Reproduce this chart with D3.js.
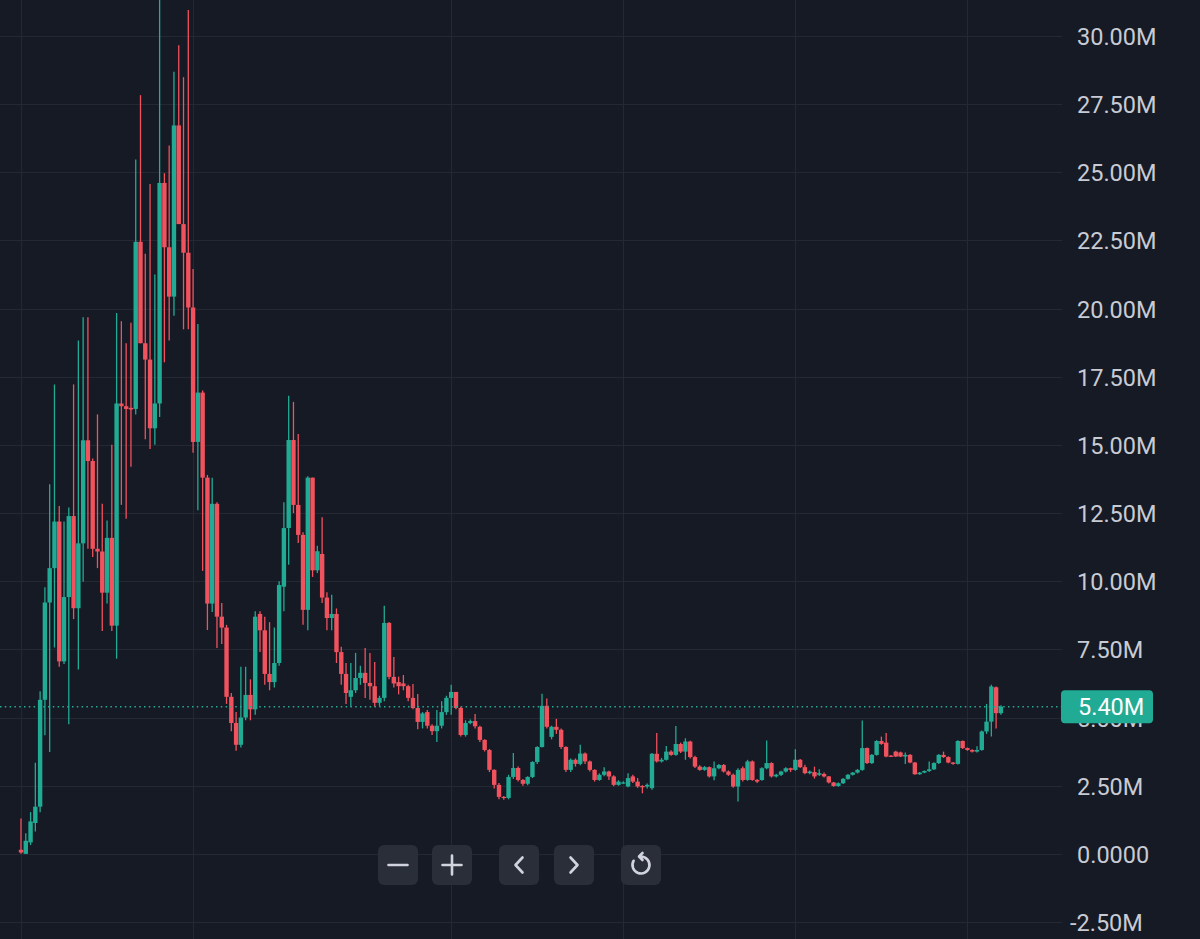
<!doctype html>
<html lang="en">
    <head>
        <meta charset="utf-8">
        <title>Candles</title>
        <style>
            html, body { margin: 0; padding: 0; background: #161a25; }
            svg { display: block; }
        </style>
    </head>
    <body>
        <script src="https://cdn.jsdelivr.net/npm/d3@7"></script>
        <script>
            // values in millions, one entry per candle
            var opens = [0.15,0.0,0.42,1.13,1.73,5.65,9.22,10.48,12.19,7.06,9.42,12.39,9.01,11.39,15.17,14.41,11.19,11.09,9.58,11.59,
                8.37,16.52,16.42,16.36,16.32,22.45,18.73,18.13,15.61,16.52,24.61,22.25,20.44,26.72,23.1,22.05,20.04,15.11,16.92,13.8,
                9.18,12.84,8.7,8.3,5.76,4.8,4.0,5.0,5.83,5.3,8.8,8.2,6.6,6.3,7.0,9.8,11.95,15.18,12.8,11.7,
                8.95,13.8,10.4,11.0,9.4,8.65,8.8,7.4,6.6,5.76,6.0,6.45,6.64,6.27,6.15,5.54,5.72,8.47,6.49,6.3,
                6.25,6.15,5.72,5.35,4.84,5.2,4.7,4.5,4.7,5.2,5.72,5.94,5.35,4.36,4.8,4.87,4.66,4.18,3.81,3.08,
                2.53,2.09,2.05,2.82,3.15,2.71,2.57,2.82,3.37,3.92,5.43,4.29,4.66,4.55,3.92,3.08,3.45,3.3,3.68,3.39,
                3.08,2.71,2.9,3.02,2.84,2.53,2.6,2.47,2.84,2.65,2.49,2.47,2.41,3.67,3.39,3.45,3.75,3.63,4.03,3.75,
                4.12,3.55,3.2,3.08,3.18,2.84,3.14,3.26,3.02,2.9,2.47,3.14,2.71,3.39,2.71,2.71,3.14,3.33,2.84,2.9,
                3.02,3.14,3.08,3.45,3.18,2.96,3.0,2.9,2.93,2.84,2.62,2.49,2.59,2.75,2.9,2.98,3.08,3.88,3.33,3.63,
                4.14,4.08,3.6,3.75,3.72,3.57,3.63,3.35,2.92,2.98,3.04,3.1,3.33,3.63,3.55,3.35,3.3,4.14,3.88,3.81,
                3.75,3.81,4.49,4.85,6.11,5.16];
            var highs = [1.3,0.76,1.53,3.34,5.96,9.78,13.56,17.22,12.76,12.19,12.7,17.22,18.83,19.68,19.68,14.5,16.12,12.84,12.23,15.01,
                19.84,19.54,18.73,19.48,25.47,27.83,22.01,24.57,21.25,32.0,24.97,25.98,28.69,29.66,28.49,30.95,21.45,19.44,17.0,13.9,
                13.8,12.9,9.2,8.4,5.9,5.2,6.86,6.86,6.4,8.9,8.9,8.7,8.5,8.3,10.0,12.9,16.8,16.58,15.4,11.8,
                13.85,13.8,11.3,12.35,9.6,9.5,9.0,7.6,7.0,7.0,7.37,6.9,7.55,7.37,7.04,5.8,9.1,8.5,7.22,6.5,
                6.56,6.2,6.23,5.86,5.2,5.28,4.75,5.28,5.6,5.8,6.2,5.94,5.4,4.9,4.93,5.13,4.7,4.2,3.85,3.1,
                2.6,2.12,2.9,3.7,3.2,2.75,2.85,3.4,3.95,5.87,5.7,4.7,4.95,4.6,3.95,3.5,3.5,4.0,3.72,3.42,
                3.1,2.95,3.18,3.05,2.88,2.7,2.66,2.96,2.9,2.78,2.52,2.58,3.7,4.43,3.52,3.96,3.8,4.69,4.08,4.24,
                4.15,3.6,3.25,3.22,3.2,3.39,3.3,3.3,3.06,2.95,3.14,3.2,3.45,3.42,2.75,3.18,4.16,3.36,2.94,3.05,
                3.18,3.16,3.84,3.48,3.27,3.06,3.2,3.1,2.98,2.86,2.64,2.62,2.78,2.93,3.0,3.11,4.89,3.9,3.66,4.17,
                4.3,4.43,3.63,3.78,3.75,3.72,3.66,3.37,3.0,3.06,3.39,3.36,3.66,3.75,3.58,3.37,4.17,4.16,3.9,3.84,
                3.95,4.52,5.5,6.2,6.14,5.45];
            var lows = [0.0,0.0,0.32,0.82,1.53,4.35,3.74,7.57,6.86,6.96,4.75,8.61,6.76,9.98,11.19,10.89,10.48,8.17,9.18,8.17,
                7.16,12.8,12.29,14.2,16.12,18.73,15.21,14.85,15.01,16.02,18.03,18.83,19.74,23.1,19.24,19.24,14.71,12.6,10.38,8.21,
                8.87,7.55,7.7,5.5,4.5,3.78,3.9,4.9,4.9,5.1,7.4,6.2,6.0,6.1,6.9,8.9,10.6,12.5,11.4,8.4,
                8.2,10.16,10.3,9.2,8.2,8.2,7.0,6.2,5.5,5.4,5.9,6.2,5.72,5.65,5.4,5.42,5.6,6.4,6.1,5.85,
                6.0,5.6,5.3,4.57,4.6,4.6,4.36,4.1,4.6,5.1,5.1,5.3,4.3,4.3,4.75,4.6,4.1,3.75,3.0,2.4,
                2.0,1.98,2.0,2.75,2.65,2.5,2.52,2.78,3.3,3.9,4.6,4.2,4.4,3.85,3.0,3.0,3.2,3.25,3.3,3.02,
                2.65,2.68,2.85,2.71,2.48,2.5,2.56,2.44,2.6,2.42,2.22,2.4,2.35,3.35,3.35,3.42,3.6,3.6,3.7,3.45,
                3.5,3.15,3.05,3.05,2.8,2.7,3.1,2.98,2.86,2.42,1.92,2.65,2.68,2.68,2.6,2.68,3.1,2.8,2.8,2.86,
                2.98,3.0,3.05,3.15,2.92,2.92,2.76,2.86,2.8,2.58,2.46,2.46,2.56,2.72,2.87,2.95,3.05,3.3,3.3,3.6,
                4.0,3.54,3.55,3.55,3.55,3.3,3.32,2.9,2.9,2.96,3.0,3.08,3.3,3.52,3.32,3.27,3.28,3.85,3.78,3.72,
                3.72,3.78,4.4,4.3,4.6,5.1];
            var closes = [0.05,0.48,1.19,1.73,5.65,9.22,10.48,12.19,7.06,9.42,12.39,9.01,11.39,15.17,14.41,11.19,11.09,9.58,11.59,8.37,
                16.52,16.42,16.32,16.3,22.45,18.73,18.13,15.61,16.52,24.61,22.25,20.44,26.72,23.1,22.05,20.04,15.11,16.92,13.8,9.18,
                12.84,8.7,8.3,5.76,4.8,4.0,5.0,5.83,5.3,8.7,8.2,6.6,6.3,7.0,9.86,11.95,15.18,12.8,11.7,8.95,
                13.8,10.4,11.1,9.4,8.65,8.8,7.4,6.6,5.9,6.0,6.45,6.64,6.27,6.15,5.54,5.72,8.47,6.49,6.25,6.15,
                6.15,5.72,5.35,4.84,5.15,4.7,4.5,4.7,5.2,5.72,5.94,5.35,4.36,4.8,4.87,4.68,4.18,3.81,3.08,2.53,
                2.09,2.05,2.82,3.15,2.71,2.57,2.82,3.37,3.92,5.43,4.66,4.66,4.55,3.92,3.08,3.45,3.3,3.68,3.39,3.08,
                2.71,2.9,3.02,2.84,2.53,2.65,2.62,2.78,2.65,2.47,2.44,2.53,3.67,3.39,3.45,3.75,3.63,4.03,3.75,4.12,
                3.55,3.2,3.08,3.18,2.84,3.14,3.26,3.02,2.9,2.47,3.08,2.71,3.39,2.71,2.65,3.14,3.33,2.84,2.9,3.02,
                3.14,3.08,3.45,3.18,2.96,3.02,2.84,2.96,2.84,2.62,2.49,2.59,2.75,2.9,2.98,3.08,3.88,3.33,3.63,4.14,
                4.03,3.57,3.57,3.57,3.57,3.63,3.35,2.92,2.98,3.04,3.1,3.33,3.63,3.55,3.35,3.3,4.14,3.88,3.81,3.75,
                3.81,4.49,4.85,6.14,5.16,5.4];

            var priceTicks = [-2.5, 0, 2.5, 5, 7.5, 10, 12.5, 15, 17.5, 20, 22.5, 25, 27.5, 30];
            var timeTicks = [0, 36, 90, 126, 162, 198];   // candle index of each vertical grid line
            var lastPrice = 5.40;
            var buttons = ["minus", "plus", "left", "right", "reset"];

            var width = 1200, height = 939, plotRight = 1062;
            var up = "#22ab94", down = "#f0525e", grid = "#242833", textColor = "#c8cbd3";

            var candles = opens.map(function(o, i) {
                return {i: i, o: o * 1e6, h: highs[i] * 1e6, l: lows[i] * 1e6, c: closes[i] * 1e6};
            });

            var x = d3.scaleLinear()
                      .domain([0, candles.length - 1])
                      .range([21, 21 + 4.78 * (candles.length - 1)]);
            var y = d3.scaleLinear()
                      .domain([-2.5e6, 30e6])
                      .range([922, 36]);

            var svg = d3.select("body").append("svg")
                        .attr("width", width)
                        .attr("height", height)
                        .style("font-family", "Roboto, sans-serif");

            svg.append("rect")
                .attr("width", width)
                .attr("height", height)
                .attr("fill", "#161a25");

            var crisp = function(v) { return Math.round(v) + 0.5; };

            svg.append("g").selectAll("line")
                .data(priceTicks)
                .enter().append("line")
                .attr("x1", 0)
                .attr("x2", plotRight)
                .attr("y1", function(d) { return crisp(y(d * 1e6)); })
                .attr("y2", function(d) { return crisp(y(d * 1e6)); })
                .attr("stroke", grid);

            svg.append("g").selectAll("line")
                .data(timeTicks)
                .enter().append("line")
                .attr("x1", function(d) { return crisp(x(d)); })
                .attr("x2", function(d) { return crisp(x(d)); })
                .attr("y1", 0)
                .attr("y2", height)
                .attr("stroke", grid);

            // right price axis
            var axis = d3.axisRight(y)
                         .tickValues(priceTicks.map(function(d) { return d * 1e6; }))
                         .tickSize(0)
                         .tickPadding(0)
                         .tickFormat(function(d) {
                             if (d === 0) return "0.0000";
                             return (d < 0 ? "-" : "") + (Math.abs(d) / 1e6).toFixed(2) + "M";
                         });
            var axisG = svg.append("g")
                           .attr("transform", "translate(1077,0)")
                           .call(axis);
            axisG.select(".domain").remove();
            axisG.selectAll("text")
                .attr("fill", textColor)
                .attr("font-size", "23.5px")
                .attr("font-family", "Roboto, sans-serif")
                .attr("dy", "0.36em")
                .attr("x", function(d) { return d < 0 ? -7 : 0; });

            var cg = svg.append("g");
            cg.selectAll("line")
                .data(candles)
                .enter().append("line")
                .attr("x1", function(d) { return x(d.i); })
                .attr("x2", function(d) { return x(d.i); })
                .attr("y1", function(d) { return y(d.h); })
                .attr("y2", function(d) { return y(d.l); })
                .attr("stroke", function(d) { return d.c >= d.o ? up : down; })
                .attr("stroke-width", 1.3);
            cg.selectAll("rect")
                .data(candles)
                .enter().append("rect")
                .attr("x", function(d) { return x(d.i) - 2.2; })
                .attr("width", 4.4)
                .attr("y", function(d) { return y(Math.max(d.o, d.c)); })
                .attr("height", function(d) { return Math.max(1.2, Math.abs(y(d.o) - y(d.c))); })
                .attr("fill", function(d) { return d.c >= d.o ? up : down; });

            // last price line and label
            var py = y(lastPrice * 1e6);
            svg.append("line")
                .attr("x1", 0)
                .attr("x2", plotRight)
                .attr("y1", py)
                .attr("y2", py)
                .attr("stroke", up)
                .attr("stroke-width", 1.5)
                .attr("stroke-dasharray", "1.5,3.3");
            svg.append("rect")
                .attr("x", 1061)
                .attr("y", py - 16.5)
                .attr("width", 92)
                .attr("height", 33)
                .attr("rx", 4)
                .attr("fill", up);
            svg.append("text")
                .attr("x", 1078)
                .attr("y", py)
                .attr("dy", "0.36em")
                .attr("fill", "#ffffff")
                .attr("font-size", "23.5px")
                .text(lastPrice.toFixed(2) + "M");

            // navigation buttons
            var btnX = {minus: 378, plus: 432, left: 499, right: 554, reset: 621};
            var bg = svg.append("g").selectAll("g")
                        .data(buttons)
                        .enter().append("g")
                        .attr("transform", function(d) { return "translate(" + btnX[d] + ",845)"; });
            bg.append("rect")
                .attr("width", 40)
                .attr("height", 40)
                .attr("rx", 6)
                .attr("fill", "#2a2e39");
            var icons = {
                minus: "M10.5,20 H29.5",
                plus: "M10.5,20 H29.5 M20,10.5 V29.5",
                left: "M23.5,12.5 L16.5,20 L23.5,27.5",
                right: "M16.5,12.5 L23.5,20 L16.5,27.5",
                reset: "M20,11.5 A8.5,8.5 0 1 1 12.6,15.75 M21.5,8 L18,11.5 L21.5,15"
            };
            bg.append("path")
                .attr("d", function(d) { return icons[d]; })
                .attr("fill", "none")
                .attr("stroke", "#d1d4dc")
                .attr("stroke-width", 2.6)
                .attr("stroke-linecap", "round")
                .attr("stroke-linejoin", "round");
        </script>
    </body>
</html>
